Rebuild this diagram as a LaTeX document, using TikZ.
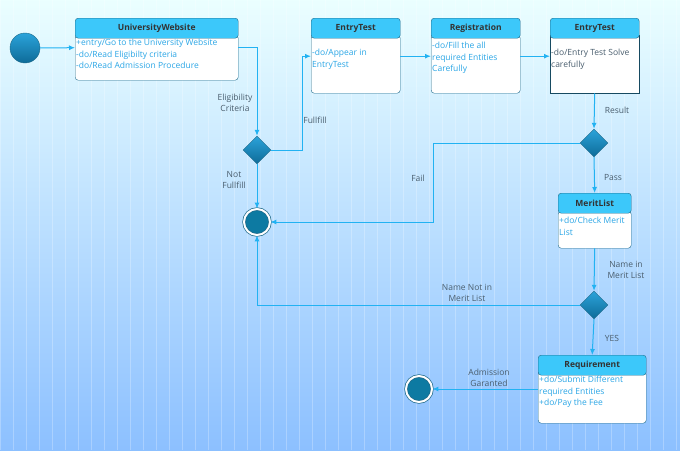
\documentclass[tikz,border=0pt]{standalone}
\usepackage{fontspec}
\setmainfont{Open Sans}
\usetikzlibrary{shapes.geometric,arrows.meta}
\definecolor{edgecol}{HTML}{22B2F2}
\definecolor{boxline}{HTML}{1F6A8A}
\definecolor{titlecol}{HTML}{3CC8FA}
\definecolor{bodytext}{HTML}{2AA6E6}
\definecolor{labcol}{HTML}{4A5E6E}
\definecolor{deep}{HTML}{0E6B98}
\definecolor{mid}{HTML}{2BA3DA}
\tikzset{
  every node/.style={font=\fontsize{8.5}{11.5}\selectfont},
  head/.style={draw=boxline,fill=titlecol,rounded corners=3pt,minimum height=20pt,
    anchor=north west,inner sep=0pt,font=\fontsize{8.5}{11}\selectfont\bfseries,text=black!80},
  body/.style={draw=boxline,fill=white,rounded corners=3pt,anchor=north west,inner sep=0pt},
  btext/.style={anchor=north west,align=left,inner sep=1pt,text=bodytext},
  dec/.style={diamond,draw=boxline,inner sep=0pt,minimum size=28pt,top color=mid,bottom color=deep},
  ini/.style={circle,draw=boxline,inner sep=0pt,minimum size=30pt,top color=mid,bottom color=deep},
  fin/.style={circle,draw=boxline,double=white,double distance=2pt,line width=.7pt,inner sep=0pt,minimum size=26pt,fill=deep!90!cyan},
  flow/.style={draw=edgecol,line width=1pt,-{Latex[length=6pt,width=5pt]}},
  lab/.style={text=labcol,align=center}
}
\begin{document}
\begin{tikzpicture}[x=1pt,y=-1pt]
  \useasboundingbox (0,0) rectangle (680,450);
  \shade[top color=blue!2!cyan!8!white,bottom color=cyan!45!blue!45!white] (0,0) rectangle (680,450);
  \draw[white,opacity=.25,step=13] (0,0) grid (680,450);
  % states
  \node[ini] (start) at (25,48) {};
  \node[body,minimum width=163pt,minimum height=45pt] (uw) at (75,35) {};
  \node[head,minimum width=163pt] (uwT) at (75,18) {UniversityWebsite};
  \node[btext] at ([yshift=-3pt]uw.north west) {+entry/Go to the University Website\\-do/Read Eligibilty criteria\\-do/Read Admission Procedure};
  \node[body,minimum width=89pt,minimum height=58pt] (et) at (311,35) {};
  \node[head,minimum width=89pt] (etT) at (311,18) {EntryTest};
  \node[btext] at ([yshift=-13pt]et.north west) {-do/Appear in\\EntryTest};
  \node[body,minimum width=89pt,minimum height=58pt] (reg) at (431,35) {};
  \node[head,minimum width=89pt] (regT) at (431,18) {Registration};
  \node[btext] at ([yshift=-6pt]reg.north west) {-do/Fill the all\\required Entities\\Carefully};
  \node[body,rounded corners=0pt,draw=boxline!70!black,minimum width=89pt,minimum height=58pt] (solve) at (550,35) {};
  \node[head,minimum width=89pt] (solveT) at (550,18) {EntryTest};
  \node[btext,text=labcol] at ([yshift=-13pt]solve.north west) {-do/Entry Test Solve\\carefully};
  \node[body,minimum width=73pt,minimum height=37pt] (merit) at (558,211) {};
  \node[head,minimum width=73pt] (meritT) at (558,193) {MeritList};
  \node[btext] at ([yshift=-5pt]merit.north west) {+do/Check Merit\\List};
  \node[body,minimum width=108pt,minimum height=52pt] (req) at (538,371) {};
  \node[head,minimum width=108pt] (reqT) at (538,355) {Requirement};
  \node[btext] at ([yshift=-4pt]req.north west) {+do/Submit Different\\required Entities\\+do/Pay the Fee};
  % decisions and ends
  \node[dec] (elig) at (257,150) {};
  \node[dec] (result) at (594,143) {};
  \node[dec] (inlist) at (594,305) {};
  \node[fin] (done) at (257,222) {};
  \node[fin] (admit) at (419,389) {};
  % transitions
  \draw[flow] (start) -- ([yshift=10pt]uw.west);
  \draw[flow] ([yshift=10pt]uw.east) -| (elig.north);
  \draw[flow] (elig.east) -- ++(31,0) |- ([yshift=8pt]et.west);
  \draw[flow] (elig.south) -- (done.north);
  \draw[flow] ([yshift=8pt]et.east) -- ([yshift=8pt]reg.west);
  \draw[flow] ([yshift=8pt]reg.east) -- ([yshift=8pt]solve.west);
  \draw[flow] (solve.south) -- (result.north);
  \draw[flow] (result.west) -- ++(-146,0) |- (done.east);
  \draw[flow] (result.south) -- (meritT.north);
  \draw[flow] (merit.south) -- (inlist.north);
  \draw[flow] (inlist.west) -| (done.south);
  \draw[flow] (inlist.south) -- (reqT.north);
  \draw[flow] (req.west |- admit.east) -- (admit.east);
  % labels
  \node[lab] at (235,103) {Eligibility\\Criteria};
  \node[lab] at (315,120) {Fullfill};
  \node[lab] at (234,180) {Not\\Fullfill};
  \node[lab] at (617,110) {Result};
  \node[lab] at (418,178) {Fail};
  \node[lab] at (613,178) {Pass};
  \node[lab] at (626,270) {Name in\\Merit List};
  \node[lab] at (467,293) {Name Not in\\Merit List};
  \node[lab] at (612,338) {YES};
  \node[lab] at (489,378) {Admission\\Garanted};
\end{tikzpicture}
\end{document}
